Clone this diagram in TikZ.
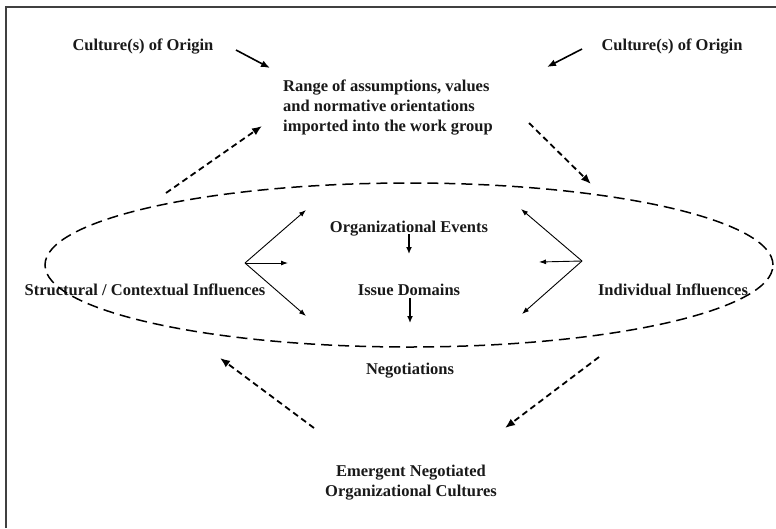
\documentclass[tikz,border=0pt]{standalone}
\usepackage{fontspec}
\setmainfont{Liberation Serif}
\usetikzlibrary{arrows.meta,shapes.geometric}

\begin{document}
\begin{tikzpicture}[x=1pt,y=-1pt,
  lbl/.style={font=\bfseries\fontsize{16.5}{20}\selectfont, inner sep=0pt, text=black!90},
  solidarrow/.style={line width=1.6pt, -{Latex[length=9pt,width=7pt]}},
  fanarrow/.style={line width=0.9pt, -{Latex[length=7pt,width=5pt]}},
  downarrow/.style={line width=1.4pt, -{Latex[length=7pt,width=6pt]}},
  flowarrow/.style={line width=1.8pt, dash pattern=on 6pt off 4pt, -{Latex[length=10pt,width=8pt]}},
  ring/.style={ellipse, draw, line width=1.5pt, dash pattern=on 11pt off 6pt, inner sep=0pt}
]
\useasboundingbox (0,0) rectangle (776,528);

% frame (top and left edges)
\draw[line width=1.8pt, black!75] (6,528) -- (6,7) -- (776,7);

% texts
\node[lbl] (coL) at (143,47) {Culture(s) of Origin};
\node[lbl] (coR) at (672,47) {Culture(s) of Origin};
\node[lbl, align=left, anchor=west] (range) at (283,108)
  {Range of assumptions, values\\and normative orientations\\imported into the work group};
\node[lbl] (events) at (409,229) {Organizational Events};
\node[lbl] (issues) at (409,290) {Issue Domains};
\node[lbl] (struct) at (145,290) {Structural / Contextual Influences};
\node[lbl] (indiv) at (673,290) {Individual Influences};
\node[lbl] (nego) at (410,371) {Negotiations};
\node[lbl, align=center] (emerg) at (411,483) {Emergent Negotiated\\Organizational Cultures};

% dashed ellipse
\node[ring, minimum width=728pt, minimum height=164pt] (ringnode) at (409,265) {};

% arrow end points
\coordinate (aL1) at (236,50);  \coordinate (aL2) at (270,68);
\coordinate (aR1) at (582,49);  \coordinate (aR2) at (547,67);
\coordinate (fUL1) at (166,193); \coordinate (fUL2) at (262,126);
\coordinate (fUR1) at (529,123); \coordinate (fUR2) at (591,184);
\coordinate (fLL1) at (314,428); \coordinate (fLL2) at (220,358);
\coordinate (fLR1) at (599,357); \coordinate (fLR2) at (505,428);
\coordinate (lf) at (245,263);
\coordinate (lfA) at (306,210); \coordinate (lfB) at (288,263); \coordinate (lfC) at (306,316);
\coordinate (rf) at (582,261);
\coordinate (rfA) at (521,209); \coordinate (rfB) at (539,262); \coordinate (rfC) at (522,314);
\coordinate (ev1) at (409,234); \coordinate (ev2) at (409,254);
\coordinate (is1) at (410,298); \coordinate (is2) at (410,323);

% solid arrows from the cultures of origin
\draw[solidarrow] (aL1) -- (aL2);
\draw[solidarrow] (aR1) -- (aR2);

% dashed flow arrows
\draw[flowarrow] (fUL1) -- (fUL2);
\draw[flowarrow] (fUR1) -- (fUR2);
\draw[flowarrow] (fLL1) -- (fLL2);
\draw[flowarrow] (fLR1) -- (fLR2);

% influence fans
\draw[fanarrow] (lf) -- (lfA);
\draw[fanarrow] (lf) -- (lfB);
\draw[fanarrow] (lf) -- (lfC);
\draw[fanarrow] (rf) -- (rfA);
\draw[fanarrow] (rf) -- (rfB);
\draw[fanarrow] (rf) -- (rfC);

% downward arrows in the centre
\draw[downarrow] (ev1) -- (ev2);
\draw[downarrow] (is1) -- (is2);
\end{tikzpicture}
\end{document}
